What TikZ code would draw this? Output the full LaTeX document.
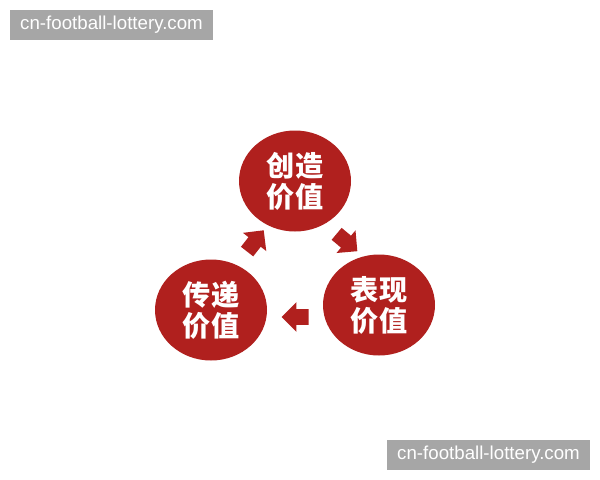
\documentclass[tikz,border=0pt]{standalone}
\usepackage{fontspec}
\setsansfont{Liberation Sans}
\newfontfamily\cjk{Noto Sans CJK SC}
\usetikzlibrary{shapes.arrows,shapes.geometric}
\definecolor{wine}{RGB}{176,32,30}
\definecolor{markgray}{RGB}{166,166,166}
\begin{document}
\begin{tikzpicture}[x=0.025cm,y=-0.025cm,
    value/.style={ellipse,fill=wine,minimum width=112*0.025cm,minimum height=101*0.025cm,
        inner sep=0pt,text=white,font=\cjk\bfseries\fontsize{20}{22}\selectfont,align=center},
    turn/.style={single arrow,fill=wine,inner xsep=0pt,inner ysep=7.5*0.025cm,
        minimum height=27*0.025cm,single arrow head extend=7*0.025cm},
    stamp/.style={fill=markgray,text=white,font=\sffamily\fontsize{13.3}{15}\selectfont,
        minimum width=203*0.025cm,minimum height=30*0.025cm,inner sep=0pt}]
    \useasboundingbox[fill=white] (0,0) rectangle (600,480);
    % watermarks
    \node[stamp] (mark1) at (111.5,25) {cn-football-lottery.com};
    \node[stamp] (mark2) at (488.5,455) {cn-football-lottery.com};
    % the three circles
    \node[value] (create) at (295,181) {创造\\价值};
    \node[value] (show) at (379,305) {表现\\价值};
    \node[value] (pass) at (211,310) {传递\\价值};
    % arrows between them
    \node[turn,rotate=52] (a1) at (253,244) {};
    \node[turn,rotate=-40] (a2) at (344,240) {};
    \node[turn,rotate=180] (a3) at (299,317) {};
\end{tikzpicture}
\end{document}
